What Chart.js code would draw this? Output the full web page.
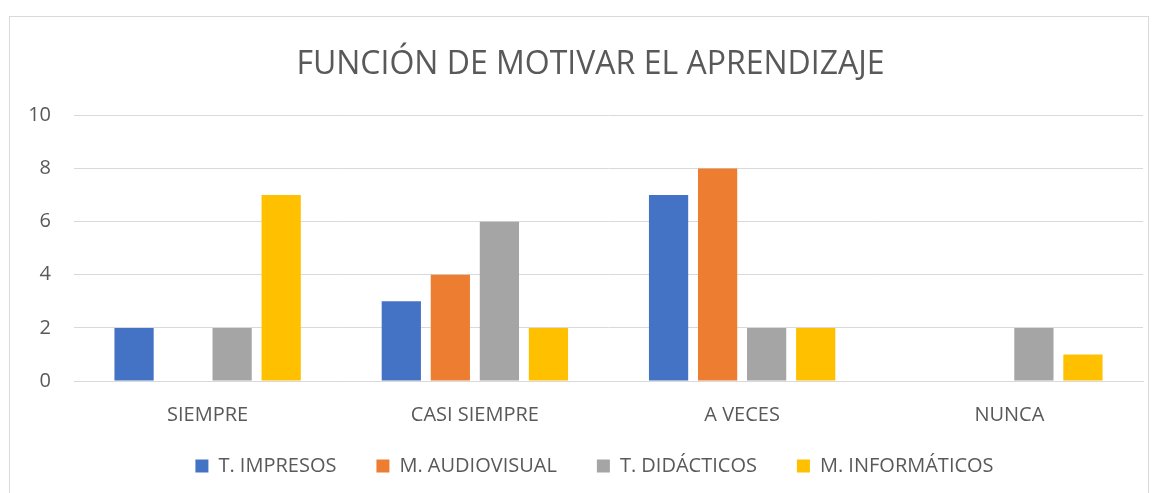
<!DOCTYPE html>
<html>
<head>
<meta charset="utf-8">
<script src="https://cdn.jsdelivr.net/npm/chart.js@4"></script>
<style>
    html, body { margin: 0; padding: 0; background: #fff; overflow: hidden; }
    #wrap { position: relative; width: 1159px; height: 493px; }
    #frame {
        position: absolute; left: 9px; top: 16px; width: 1140px; height: 490px;
        border: 1px solid #d9d9d9; box-sizing: border-box; pointer-events: none;
    }
    canvas { position: absolute; left: 0; top: 0; }
</style>
</head>
<body>
<div id="wrap">
    <div id="frame"></div>
    <canvas id="chart" width="1159" height="493"></canvas>
</div>
<script>
// Data
const categories = ['SIEMPRE', 'CASI SIEMPRE', 'A VECES', 'NUNCA'];
const seriesNames = ['T. IMPRESOS', 'M. AUDIOVISUAL', 'T. DIDÁCTICOS', 'M. INFORMÁTICOS'];
const impresos = [2, 3, 7, 0];
const audiovisual = [0, 4, 8, 0];
const didacticos = [2, 6, 2, 2];
const informaticos = [7, 2, 2, 1];
const yTicks = [0, 2, 4, 6, 8, 10];

const colors = ['#4472C4', '#ED7D31', '#A5A5A5', '#FFC000'];
const textColor = '#595959';
const gridColor = '#D9D9D9';
const fontFamily = '"Open Sans", "Noto Sans", sans-serif';

const values = [impresos, audiovisual, didacticos, informaticos];

// Excel centres title/legend on the whole frame, not on the plot; nudge them over
const nudgeBoxes = {
    id: 'nudgeBoxes',
    afterLayout(chart) {
        const lg = chart.legend;
        if (lg) {
            lg.left += 23; lg.right += 23;
            lg.top -= 7; lg.bottom -= 7;
        }
        const tb = chart.titleBlock;
        if (tb) {
            tb.left += 19; tb.right += 19;
        }
    }
};

new Chart(document.getElementById('chart'), {
    type: 'bar',
    data: {
        labels: categories,
        datasets: seriesNames.map((name, i) => ({
            label: name,
            data: values[i],
            backgroundColor: colors[i],
            borderWidth: 0,
            categoryPercentage: 0.734,
            barPercentage: 0.8
        }))
    },
    plugins: [nudgeBoxes],
    options: {
        responsive: false,
        animation: false,
        devicePixelRatio: 1,
        layout: { padding: { left: 0, right: 16, top: 0, bottom: 0 } },
        plugins: {
            title: {
                display: true,
                text: 'FUNCIÓN DE MOTIVAR EL APRENDIZAJE',
                color: textColor,
                font: { family: fontFamily, size: 32, weight: 'normal' },
                padding: { top: 46, bottom: 31 }
            },
            legend: {
                position: 'bottom',
                labels: {
                    color: textColor,
                    font: { family: fontFamily, size: 20 },
                    boxWidth: 13,
                    boxHeight: 13,
                    padding: 40
                }
            },
            tooltip: { enabled: false }
        },
        scales: {
            x: {
                grid: { display: false, drawTicks: false },
                border: { display: true, color: gridColor, width: 1 },
                ticks: { color: textColor, font: { family: fontFamily, size: 20 }, padding: 22 },
                afterFit: (scale) => { scale.height = 42; }
            },
            y: {
                min: 0,
                max: 10,
                afterBuildTicks: (scale) => { scale.ticks = yTicks.map(v => ({ value: v })); },
                grid: { color: gridColor, lineWidth: 1, drawTicks: false },
                border: { display: false },
                ticks: { color: textColor, font: { family: fontFamily, size: 20 }, padding: 23 },
                afterFit: (scale) => { scale.width = 74; }
            }
        }
    }
});
</script>
</body>
</html>
